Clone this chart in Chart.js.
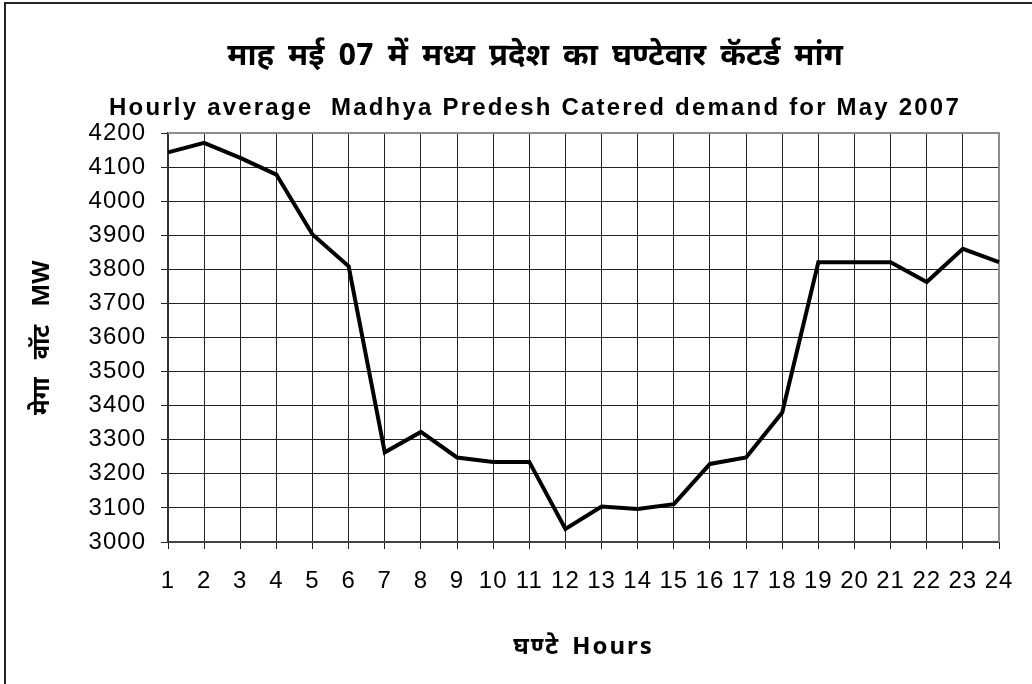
<!DOCTYPE html>
<html>
<head>
<meta charset="utf-8">
<script src="https://cdn.jsdelivr.net/npm/chart.js@4.4.1/dist/chart.umd.min.js"></script>
<style>
  html, body { margin: 0; padding: 0; background: #fff; }
  #wrap { width: 1032px; height: 684px; }
</style>
</head>
<body>
<div id="wrap"><canvas id="demandChart" width="1032" height="684"></canvas></div>
<script>
/*==== data ====*/
const hours = ['1', '2', '3', '4', '5', '6', '7', '8', '9', '10', '11', '12',
               '13', '14', '15', '16', '17', '18', '19', '20', '21', '22', '23', '24'];

// MW, hourly average catered demand, May 2007
const demand = [4143, 4171, 4127, 4078, 3902, 3809, 3263, 3323, 3248, 3235, 3235, 3038,
                3104, 3097, 3111, 3229, 3248, 3380, 3821, 3821, 3821, 3763, 3860, 3821];

const titleHi = 'माह मई 07 में मध्य प्रदेश का घण्टेवार कॅटर्ड मांग';
const titleEn = 'Hourly average  Madhya Predesh Catered demand for May 2007';
const yTitle = 'मेगा वॉट MW';
const xTitle = 'घण्टे Hours';

const yMin = 3000, yMax = 4200, yStep = 100;

const hindiFont = '"Noto Sans Devanagari", "Lohit Devanagari", "Noto Sans", "Liberation Sans", sans-serif';
const latinFont = '"Liberation Sans", Arial, sans-serif';

/*==== helper: wider text spacing like the old Excel render ====*/
function spaced(obj, method, letter, word) {
    if (!obj || obj['_sp_' + method]) return;
    const orig = obj[method];
    obj[method] = function () {
        const ctx = this.ctx;
        const l = ctx.letterSpacing, w = ctx.wordSpacing;
        ctx.letterSpacing = letter;
        ctx.wordSpacing = word;
        orig.apply(this, arguments);
        ctx.letterSpacing = l;
        ctx.wordSpacing = w;
    };
    obj['_sp_' + method] = true;
}

const spacingPlugin = {
    id: 'spacing',
    beforeDraw(chart) {
        chart.boxes.forEach(b => {
            if (b.options && b.options.text === titleEn) spaced(b, 'draw', '2.2px', '0px');
            if (b.options && b.options.text === titleHi) spaced(b, 'draw', '0px', '6px');
        });
        spaced(chart.scales.x, 'drawLabels', '1px', '0px');
        spaced(chart.scales.y, 'drawLabels', '1px', '0px');
        spaced(chart.scales.x, 'drawTitle', '2px', '4px');
        spaced(chart.scales.y, 'drawTitle', '0px', '12px');
    }
};

/*==== frame: grey top/right of plot area + outer border ====*/
const framePlugin = {
    id: 'frame',
    beforeDatasetsDraw(chart) {
        const {ctx, chartArea: a} = chart;
        ctx.save();
        ctx.strokeStyle = '#8c8c8c';
        ctx.lineWidth = 2;
        ctx.beginPath();
        ctx.moveTo(a.left, a.top);
        ctx.lineTo(a.right, a.top);
        ctx.lineTo(a.right, a.bottom);
        ctx.stroke();
        ctx.restore();
    },
    afterDraw(chart) {
        const ctx = chart.ctx;
        ctx.save();
        ctx.strokeStyle = '#222';
        ctx.lineWidth = 2;
        ctx.beginPath();
        ctx.moveTo(5, chart.height);
        ctx.lineTo(5, 3);
        ctx.lineTo(chart.width, 3);
        ctx.stroke();
        ctx.restore();
    }
};

/*==== config ====*/
const config = {
    type: 'line',
    data: {
        labels: hours,
        datasets: [{
            label: 'Demand',
            data: demand,
            borderColor: '#000',
            borderWidth: 4,
            pointRadius: 0,
            tension: 0,
            fill: false
        }]
    },
    options: {
        responsive: false,
        animation: false,
        layout: { padding: { left: 71, right: 33, top: 0, bottom: 0 } },
        plugins: {
            legend: { display: false },
            tooltip: { enabled: false },
            title: {
                display: true,
                text: titleHi,
                color: '#000',
                font: { family: hindiFont, size: 31, weight: 'bold' },
                padding: { top: 41, bottom: 8 }
            },
            subtitle: {
                display: true,
                text: titleEn,
                color: '#000',
                font: { family: latinFont, size: 24, weight: 'bold' },
                padding: { top: 8, bottom: 10 }
            }
        },
        scales: {
            x: {
                type: 'category',
                offset: false,
                grid: { color: '#222', lineWidth: 1, offset: false, tickLength: 7 },
                border: { color: '#444', width: 2 },
                ticks: {
                    color: '#000',
                    font: { family: latinFont, size: 24 },
                    padding: 18,
                    autoSkip: false,
                    maxRotation: 0
                },
                title: {
                    display: true,
                    text: xTitle,
                    color: '#000',
                    font: { family: hindiFont, size: 24, weight: 'bold' },
                    padding: { top: 0, bottom: 20 }
                },
                afterFit(s) { s.height = 142; }
            },
            y: {
                min: yMin,
                max: yMax,
                grid: { color: '#222', lineWidth: 1, tickLength: 7 },
                border: { color: '#333', width: 2 },
                ticks: {
                    stepSize: yStep,
                    color: '#000',
                    font: { family: latinFont, size: 24 },
                    padding: 15,
                    callback: v => String(v)
                },
                title: {
                    display: true,
                    text: yTitle,
                    color: '#000',
                    font: { family: hindiFont, size: 24, weight: 'bold' },
                    padding: { top: -41, bottom: 0 }
                },
                afterFit(s) { s.width = 97; }
            }
        }
    },
    plugins: [spacingPlugin, framePlugin]
};

new Chart(document.getElementById('demandChart'), config);
</script>
</body>
</html>
